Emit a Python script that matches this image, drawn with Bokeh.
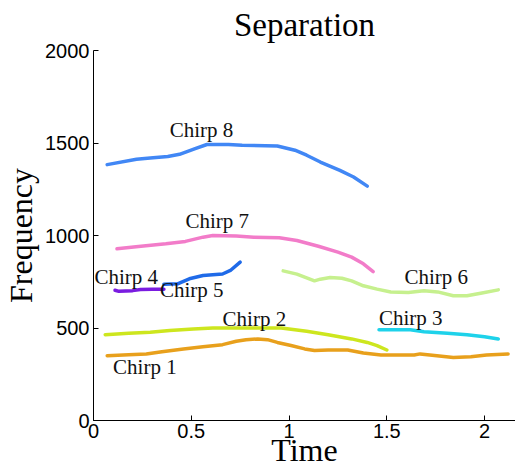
from bokeh.plotting import figure
from bokeh.models import Range1d, FixedTicker, Label
from bokeh.embed import file_html
from bokeh.resources import INLINE

# ---- data ----
chirp1_t = [0.07, 0.18, 0.27, 0.35, 0.46, 0.56, 0.66, 0.73, 0.78, 0.84, 0.89, 0.94, 1.01, 1.08, 1.13, 1.20, 1.30, 1.38, 1.47, 1.64, 1.67, 1.72, 1.84, 1.93, 2.01, 2.12]
chirp1_f = [350, 356, 360, 372, 387, 399, 410, 428, 437, 441, 437, 422, 405, 387, 378, 381, 381, 365, 354, 354, 360, 354, 341, 345, 354, 360]

chirp2_t = [0.06, 0.18, 0.29, 0.39, 0.51, 0.61, 0.78, 0.96, 1.09, 1.20, 1.32, 1.40, 1.45, 1.50]
chirp2_f = [464, 471, 477, 486, 495, 500, 500, 500, 482, 464, 441, 422, 405, 381]

chirp3_t = [1.46, 1.62, 1.69, 1.81, 1.91, 2.00, 2.07]
chirp3_f = [490, 490, 480, 471, 464, 453, 441]

chirp4_t = [0.11, 0.13, 0.20, 0.24, 0.30, 0.36]
chirp4_f = [704, 698, 702, 708, 710, 710]

chirp5_t = [0.36, 0.43, 0.49, 0.56, 0.66, 0.70, 0.75]
chirp5_f = [737, 739, 766, 784, 792, 811, 856]

chirp6_t = [0.97, 1.04, 1.13, 1.16, 1.21, 1.27, 1.32, 1.38, 1.45, 1.52, 1.61, 1.69, 1.76, 1.84, 1.91, 1.98, 2.07]
chirp6_f = [809, 791, 755, 764, 773, 769, 755, 728, 710, 695, 692, 701, 695, 674, 674, 688, 706]

chirp7_t = [0.12, 0.23, 0.37, 0.47, 0.56, 0.61, 0.73, 0.82, 0.95, 1.04, 1.15, 1.25, 1.32, 1.38, 1.43]
chirp7_f = [928, 941, 955, 968, 991, 1000, 997, 991, 988, 973, 942, 910, 883, 847, 805]

chirp8_t = [0.07, 0.22, 0.29, 0.38, 0.44, 0.52, 0.58, 0.69, 0.76, 0.94, 1.03, 1.09, 1.16, 1.26, 1.33, 1.40]
chirp8_f = [1383, 1412, 1419, 1427, 1439, 1470, 1492, 1492, 1488, 1484, 1461, 1434, 1397, 1352, 1316, 1267]

chirp_names = ["Chirp 1", "Chirp 2", "Chirp 3", "Chirp 4", "Chirp 5", "Chirp 6", "Chirp 7", "Chirp 8"]
label_t = [0.10, 0.66, 1.46, 0.005, 0.34, 1.59, 0.47, 0.39]
label_f = [291, 551, 556, 778, 708, 778, 1076, 1569]

x_ticks = [0, 0.5, 1, 1.5, 2]
x_tick_labels = ["0", "0.5", "1", "1.5", "2"]
y_ticks = [0, 500, 1000, 1500, 2000]
y_tick_labels = ["0", "500", "1000", "1500", "2000"]

colors = ["#e8a01c", "#cde61e", "#1ed2ea", "#7a1ce0", "#1f6ae8", "#c6f08e", "#f27cc9", "#4187f5"]

series = [(chirp1_t, chirp1_f), (chirp2_t, chirp2_f), (chirp3_t, chirp3_f), (chirp4_t, chirp4_f),
          (chirp5_t, chirp5_f), (chirp6_t, chirp6_f), (chirp7_t, chirp7_f), (chirp8_t, chirp8_f)]

p = figure(width=515, height=472, output_backend="svg", toolbar_location=None,
           x_range=Range1d(0, 2.158), y_range=Range1d(0, 2000),
           title="Separation", min_border_left=92, min_border_right=0,
           min_border_top=50, min_border_bottom=52)
p.outline_line_color = None
p.grid.visible = False
p.background_fill_color = "white"
p.border_fill_color = "white"

p.title.text_font = "Liberation Serif"
p.title.text_font_size = "33px"
p.title.text_font_style = "normal"
p.title.text_color = "black"
p.title.align = "center"
p.title.vertical_align = "top"
p.title.standoff = 11

for ax in (p.xaxis[0], p.yaxis[0]):
    ax.major_tick_in = 5
    ax.major_tick_out = 0
    ax.minor_tick_in = 0
    ax.minor_tick_out = 0
    ax.axis_line_color = "black"
    ax.major_tick_line_color = "black"
    ax.major_label_text_font = "Liberation Sans"
    ax.major_label_text_font_size = "20px"
    ax.major_label_text_color = "black"
    ax.axis_label_text_font = "Liberation Serif"
    ax.axis_label_text_font_size = "32px"
    ax.axis_label_text_font_style = "normal"
    ax.axis_label_text_color = "black"

p.xaxis.ticker = FixedTicker(ticks=x_ticks)
p.xaxis.major_label_overrides = {t: l for t, l in zip(x_ticks, x_tick_labels)}
p.yaxis.ticker = FixedTicker(ticks=y_ticks)
p.yaxis.major_label_overrides = {t: l for t, l in zip(y_ticks, y_tick_labels)}
p.xaxis.axis_label = "Time"
p.yaxis.axis_label = "Frequency"
p.xaxis.major_label_standoff = 3
p.xaxis.axis_label_standoff = -9
p.yaxis.major_label_standoff = 4
p.yaxis.axis_label_standoff = 3

for (t, f), c in zip(series, colors):
    p.line(t, f, line_color=c, line_width=3.5, line_join="round", line_cap="round")

for name, lt, lf in zip(chirp_names, label_t, label_f):
    p.add_layout(Label(x=lt, y=lf, text=name, text_font="Liberation Serif",
                       text_font_size="21px", text_color="#111111", text_align="left",
                       text_baseline="middle"))

open("out.html", "w").write(file_html(p, INLINE))
